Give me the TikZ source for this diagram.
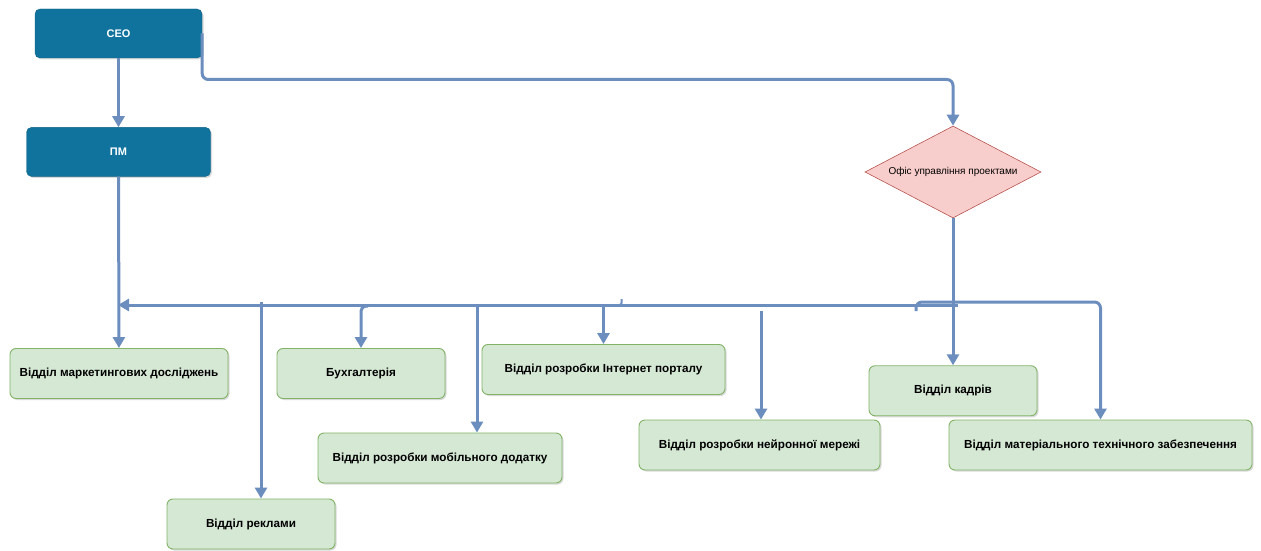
\documentclass[tikz,border=0pt]{standalone}
\usepackage{fontspec}
\setmainfont{Liberation Sans}
\usetikzlibrary{positioning,arrows.meta,shapes.geometric,shadows}
\definecolor{headblue}{HTML}{10739E}
\definecolor{linkblue}{HTML}{6C8EBF}
\definecolor{deptfill}{HTML}{D5E8D4}
\definecolor{deptdraw}{HTML}{82B366}
\definecolor{pmofill}{HTML}{F8CECC}
\definecolor{pmodraw}{HTML}{B85450}

\begin{document}
\begin{tikzpicture}[x=1pt,y=-1pt,
      head/.style={rectangle,rounded corners=5pt,fill=headblue,draw=headblue!85!black,
         text=white,font=\fontsize{11}{13}\selectfont\bfseries,minimum height=49pt,
         drop shadow={shadow xshift=1.5pt,shadow yshift=-1.5pt,opacity=.3}},
      dept/.style={rectangle,rounded corners=6pt,fill=deptfill,draw=deptdraw,line width=.9pt,
         font=\fontsize{11.7}{14}\selectfont\bfseries,minimum height=50pt,
         drop shadow={shadow xshift=1.5pt,shadow yshift=-1.5pt,opacity=.3}},
      link/.style={draw=linkblue,line width=3pt,-{Triangle[length=11pt,width=12pt]}},
      wire/.style={draw=linkblue,line width=3pt}]
   \useasboundingbox (0,0) rectangle (1261,551);

   \node[head,minimum width=167pt] (ceo) at (118.5,33.5) {CEO};
   \node[head,minimum width=184pt,below=69pt of ceo] (pm) {ПМ};

   \node[diamond,aspect=1.91,fill=pmofill,draw=pmodraw,line width=.6pt,inner sep=0pt,
      minimum width=176pt,minimum height=92pt,font=\fontsize{10}{12}\selectfont] (office) at (953,172) {Офіс управління проектами};

   \node[dept,minimum width=218pt] (mark) at (119,373.5) {Відділ маркетингових досліджень};
   \node[dept,minimum width=168pt] (buh) at (361,373.5) {Бухгалтерія};
   \node[dept,minimum width=168pt] (reklama) at (251,524) {Відділ реклами};
   \node[dept,minimum width=244pt] (mobile) at (440,458) {Відділ розробки мобільного додатку};
   \node[dept,minimum width=243pt] (portal) at (603.5,369.5) {Відділ розробки Інтернет порталу};
   \node[dept,minimum width=241pt] (neural) at (759.5,445) {Відділ розробки нейронної мережі};
   \node[dept,minimum width=168pt,below=147pt of office] (kadry) {Відділ кадрів};
   \node[dept,minimum width=303pt] (mtz) at (1100.5,445) {Відділ матеріального технічного забезпечення};

   \coordinate (busR) at (958,305);
   \coordinate (busL) at (118,305);
   \coordinate (d1) at (261,302);
   \coordinate (d2) at (368,306);
   \coordinate (d3) at (477,306);
   \coordinate (d4) at (603.5,306);
   \coordinate (d5) at (761,311);
   \coordinate (d6) at (916,311);
   \coordinate (stub) at (621.5,299);

   \draw[link] (ceo) -- (pm);
   \draw[link,rounded corners=6pt] (ceo.east) -- ++(0,46) -| (office.north);
   \draw[link] (pm) -- (mark);
   \draw[link] (office) -- (kadry);
   \draw[link] (busR) -- (busL);
   \draw[link] (d1) -- (d1 |- reklama.north);
   \draw[link,rounded corners=5pt] (d2) -| (buh.north);
   \draw[link] (d3) -- (d3 |- mobile.north);
   \draw[link] (d4) -- (portal.north);
   \draw[link] (d5) -- (d5 |- neural.north);
   \draw[link,rounded corners=6pt] (d6) -- ++(0,-9) -| (mtz.north);
   \draw[wire,line width=2pt,rounded corners=2pt] (stub) -- ++(0,6) -- ++(-5,0);
\end{tikzpicture}
\end{document}
